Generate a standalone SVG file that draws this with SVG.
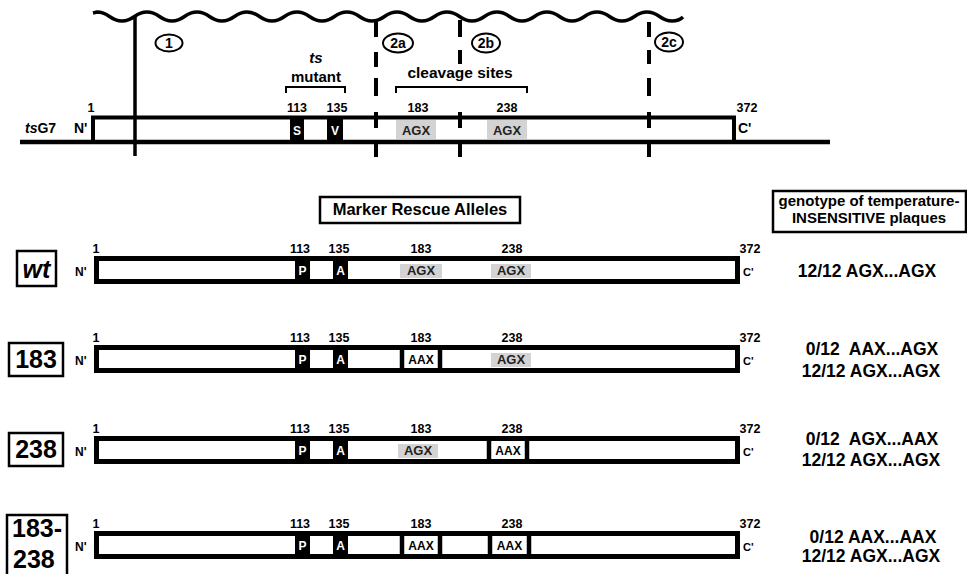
<svg xmlns="http://www.w3.org/2000/svg" width="967" height="574" viewBox="0 0 967 574">
<style>
text{font-family:"Liberation Sans",Arial,sans-serif;font-weight:bold;fill:#000}
.num{font-size:12.5px;text-anchor:middle}
.bar{fill:#fff;stroke:#000;stroke-width:5}
.blk{fill:#000}
.gry{fill:#d3d3d3}
.in{font-size:13px;text-anchor:middle;fill:#222}
.wh{font-size:12px;text-anchor:middle;fill:#fff}
.div{stroke:#000;stroke-width:4.5}
.box{fill:#fff;stroke:#000;stroke-width:2.5}
.geno{font-size:17.5px;text-anchor:middle}
.lbl{font-size:25px;text-anchor:middle}
.cut{stroke:#000;stroke-width:3.5;fill:none}
.dash{stroke-width:4}
.oval{fill:#fff;stroke:#000;stroke-width:2}
.ov{font-size:14px;text-anchor:middle}
.brk{fill:none;stroke:#000;stroke-width:2}
</style>

<g id="connectors">
  <path id="wave" class="cut" d="M93,13 L97,12 C109.5,12 109.5,21 122,21 S134.5,12 147,12 S159.5,21 172,21 S184.5,12 197,12 S209.5,21 222,21 S234.5,12 247,12 S259.5,21 272,21 S284.5,12 297,12 S309.5,21 322,21 S334.5,12 347,12 S359.5,21 372,21 S384.5,12 397,12 S409.5,21 422,21 S434.5,12 447,12 S459.5,21 472,21 S484.5,12 497,12 S509.5,21 522,21 S534.5,12 547,12 S559.5,21 572,21 S584.5,12 597,12 S609.5,21 622,21 S634.5,12 647,12 S659.5,21 672,21 Q679,21 683,17"/>
  <line class="cut" x1="135" y1="17" x2="135" y2="156"/>
  <path class="cut dash" d="M376,20V37 M376,52V67 M376,78V96 M376,112V128 M376,142V157"/>
  <path class="cut dash" d="M460,20V37 M460,50V64 M460,112V128 M460,142V157"/>
  <path class="cut dash" d="M649,22V37 M649,50V64 M649,78V96 M649,112V128 M649,142V157"/>
</g>

<g id="cut-labels">
  <ellipse class="oval" cx="169" cy="43" rx="13.5" ry="8.5"/>
  <text class="ov" x="169" y="48">1</text>
  <ellipse class="oval" cx="398" cy="43" rx="15" ry="9.5"/>
  <text class="ov" x="398" y="48">2a</text>
  <ellipse class="oval" cx="486" cy="43" rx="14" ry="9.5"/>
  <text class="ov" x="486" y="48">2b</text>
  <ellipse class="oval" cx="669" cy="42" rx="14" ry="9.5"/>
  <text class="ov" x="669" y="47">2c</text>
</g>

<g id="tsG7">
  <text x="316" y="63" style="font-size:15px;font-style:italic;text-anchor:middle">ts</text>
  <text x="316" y="82" style="font-size:15px;text-anchor:middle">mutant</text>
  <path class="brk" d="M286,93 V87 H345 V93"/>
  <text x="460" y="78" style="font-size:15.5px;text-anchor:middle">cleavage sites</text>
  <path class="brk" d="M396,93 V87 H527 V93"/>
  <path d="M20,142 H830" stroke="#000" stroke-width="4.5"/>
  <path d="M93,142 V117.5 H734 V142" fill="none" stroke="#000" stroke-width="4"/>
  <rect class="blk" x="290" y="117" width="14" height="25"/>
  <rect class="blk" x="327" y="117" width="16" height="25"/>
  <text class="wh" x="297" y="135">S</text>
  <text class="wh" x="335" y="135">V</text>
  <rect class="gry" x="396" y="120" width="40" height="19"/>
  <rect class="gry" x="487" y="120" width="40" height="19"/>
  <text class="in" x="416" y="135">AGX</text>
  <text class="in" x="507" y="135">AGX</text>
  <text class="num" x="91" y="112">1</text>
  <text class="num" x="297" y="112">113</text>
  <text class="num" x="337" y="112">135</text>
  <text class="num" x="418" y="112">183</text>
  <text class="num" x="507" y="112">238</text>
  <text class="num" x="747" y="112">372</text>
  <text x="25" y="133" style="font-size:14px"><tspan font-style="italic">ts</tspan>G7</text>
  <text x="74" y="133" style="font-size:14px">N'</text>
  <text x="738" y="133" style="font-size:14px">C'</text>
</g>

<g id="headers">
  <rect class="box" x="320" y="197" width="200" height="26"/>
  <text x="420" y="215" style="font-size:16.5px;text-anchor:middle">Marker Rescue Alleles</text>
  <rect class="box" x="773" y="191" width="193" height="41"/>
  <text x="869" y="206" style="font-size:15px;text-anchor:middle">genotype of temperature-</text>
  <text x="869" y="223" style="font-size:15px;text-anchor:middle">INSENSITIVE plaques</text>
</g>

<g id="row-wt">
  <rect class="box" x="17" y="251" width="39" height="35"/>
  <text class="lbl" x="36.5" y="278" font-style="italic">wt</text>
  <text x="75" y="276" style="font-size:12px">N'</text>
  <text x="743" y="276" style="font-size:11px">C'</text>
  <rect class="bar" x="96.5" y="258.5" width="641" height="23"/>
  <rect class="blk" x="295" y="256" width="15" height="28"/>
  <rect class="blk" x="333" y="256" width="15" height="28"/>
  <text class="wh" x="302.5" y="275">P</text>
  <text class="wh" x="340.5" y="275">A</text>
  <rect class="gry" x="400" y="264" width="42" height="14"/>
  <rect class="gry" x="491" y="264" width="40" height="14"/>
  <text class="in" x="421" y="275">AGX</text>
  <text class="in" x="511" y="275">AGX</text>
  <text class="num" x="96" y="253">1</text>
  <text class="num" x="300" y="253">113</text>
  <text class="num" x="339" y="253">135</text>
  <text class="num" x="421" y="253">183</text>
  <text class="num" x="512" y="253">238</text>
  <text class="num" x="750" y="253">372</text>
  <text class="geno" x="867" y="277">12/12 AGX...AGX</text>
</g>

<g id="row-183">
  <rect class="box" x="9" y="343" width="54" height="33"/>
  <text class="lbl" x="36" y="368">183</text>
  <text x="75" y="365" style="font-size:12px">N'</text>
  <text x="743" y="365" style="font-size:11px">C'</text>
  <rect class="bar" x="96.5" y="347.5" width="641" height="23"/>
  <rect class="blk" x="295" y="345" width="15" height="28"/>
  <rect class="blk" x="333" y="345" width="15" height="28"/>
  <text class="wh" x="302.5" y="364">P</text>
  <text class="wh" x="340.5" y="364">A</text>
  <line class="div" x1="402" y1="345" x2="402" y2="373"/>
  <line class="div" x1="440" y1="345" x2="440" y2="373"/>
  <text class="in" x="421" y="364" style="fill:#000;font-size:12px">AAX</text>
  <rect class="gry" x="491" y="353" width="40" height="14"/>
  <text class="in" x="511" y="364">AGX</text>
  <text class="num" x="96" y="342">1</text>
  <text class="num" x="300" y="342">113</text>
  <text class="num" x="339" y="342">135</text>
  <text class="num" x="421" y="342">183</text>
  <text class="num" x="512" y="342">238</text>
  <text class="num" x="750" y="342">372</text>
  <text class="geno" x="872" y="355" xml:space="preserve">0/12  AAX...AGX</text>
  <text class="geno" x="871" y="377">12/12 AGX...AGX</text>
</g>

<g id="row-238">
  <rect class="box" x="9" y="433" width="54" height="33"/>
  <text class="lbl" x="36" y="458">238</text>
  <text x="75" y="456" style="font-size:12px">N'</text>
  <text x="743" y="456" style="font-size:11px">C'</text>
  <rect class="bar" x="96.5" y="438.5" width="641" height="23"/>
  <rect class="blk" x="295" y="436" width="15" height="28"/>
  <rect class="blk" x="333" y="436" width="15" height="28"/>
  <text class="wh" x="302.5" y="455">P</text>
  <text class="wh" x="340.5" y="455">A</text>
  <rect class="gry" x="398" y="444" width="40" height="14"/>
  <text class="in" x="418" y="455">AGX</text>
  <line class="div" x1="489" y1="436" x2="489" y2="464"/>
  <line class="div" x1="527" y1="436" x2="527" y2="464"/>
  <text class="in" x="508" y="455" style="fill:#000;font-size:12px">AAX</text>
  <text class="num" x="96" y="433">1</text>
  <text class="num" x="300" y="433">113</text>
  <text class="num" x="339" y="433">135</text>
  <text class="num" x="421" y="433">183</text>
  <text class="num" x="512" y="433">238</text>
  <text class="num" x="750" y="433">372</text>
  <text class="geno" x="872" y="445" xml:space="preserve">0/12  AGX...AAX</text>
  <text class="geno" x="871" y="466">12/12 AGX...AGX</text>
</g>

<g id="row-183-238">
  <rect class="box" x="7" y="515" width="60" height="66"/>
  <text x="12" y="537" style="font-size:25px">183-</text>
  <text x="13" y="568" style="font-size:25px">238</text>
  <text x="75" y="551" style="font-size:12px">N'</text>
  <text x="743" y="551" style="font-size:11px">C'</text>
  <rect class="bar" x="96.5" y="533.5" width="641" height="23"/>
  <rect class="blk" x="295" y="531" width="15" height="28"/>
  <rect class="blk" x="333" y="531" width="15" height="28"/>
  <text class="wh" x="302.5" y="550">P</text>
  <text class="wh" x="340.5" y="550">A</text>
  <line class="div" x1="402" y1="531" x2="402" y2="559"/>
  <line class="div" x1="440" y1="531" x2="440" y2="559"/>
  <text class="in" x="421" y="550" style="fill:#000;font-size:12px">AAX</text>
  <line class="div" x1="490" y1="531" x2="490" y2="559"/>
  <line class="div" x1="529" y1="531" x2="529" y2="559"/>
  <text class="in" x="509.5" y="550" style="fill:#000;font-size:12px">AAX</text>
  <text class="num" x="96" y="528">1</text>
  <text class="num" x="300" y="528">113</text>
  <text class="num" x="339" y="528">135</text>
  <text class="num" x="421" y="528">183</text>
  <text class="num" x="512" y="528">238</text>
  <text class="num" x="750" y="528">372</text>
  <text class="geno" x="873" y="543">0/12 AAX...AAX</text>
  <text class="geno" x="871" y="562">12/12 AGX...AGX</text>
</g>
</svg>
